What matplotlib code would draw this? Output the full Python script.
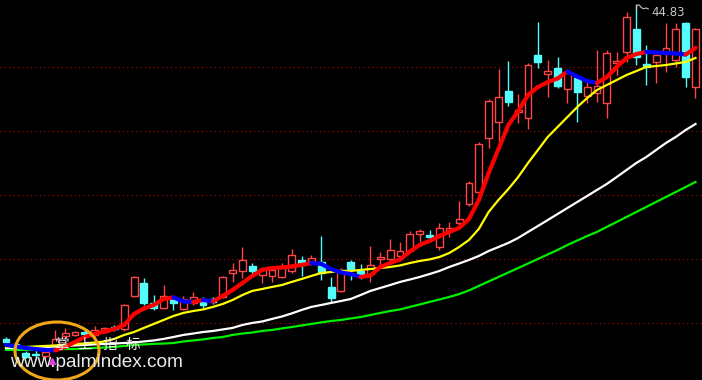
import matplotlib
matplotlib.use("Agg")
import matplotlib.pyplot as plt
import numpy as np
from matplotlib.collections import LineCollection
from matplotlib.patches import Ellipse

# ---------------- data (prices) ----------------
opens = [18.75, 18.36, 17.65, 17.57, 17.42, 18.20, 18.98, 19.06, 19.29, 19.06,
         19.29, 19.68, 19.53, 22.11, 23.12, 21.56, 21.17, 21.79, 21.09, 21.56,
         21.64, 21.87, 22.03, 23.90, 24.06, 24.45, 23.75, 23.67, 23.59, 24.06,
         24.92, 24.84, 24.76, 22.81, 22.50, 24.76, 24.06, 23.82, 25.00, 25.00,
         25.23, 25.62, 26.95, 26.87, 25.93, 27.18, 27.81, 29.29, 30.23, 34.45,
         35.70, 38.12, 36.48, 36.01, 40.93, 39.45, 39.92, 38.28, 39.14, 37.73,
         37.96, 37.18, 40.31, 41.17, 42.96, 40.23, 40.39, 41.17, 40.54, 43.43, 38.43]
highs = [18.90, 18.43, 17.81, 17.89, 17.89, 19.45, 19.61, 19.37, 19.45, 19.76,
         19.68, 19.84, 21.48, 23.67, 23.51, 22.18, 22.96, 21.95, 22.11, 22.42,
         22.03, 22.03, 23.67, 24.68, 25.93, 24.68, 24.37, 24.29, 24.68, 25.78,
         25.23, 25.31, 26.79, 23.59, 24.29, 24.92, 24.61, 26.01, 25.54, 26.56,
         26.32, 27.18, 27.34, 27.26, 27.81, 27.89, 29.53, 31.09, 34.14, 37.50,
         39.84, 40.46, 37.89, 40.31, 43.51, 40.54, 40.78, 39.76, 39.29, 38.98,
         41.32, 41.32, 41.17, 44.29, 44.83, 41.71, 41.01, 43.43, 43.43, 43.51, 43.04]
lows = [18.28, 18.12, 17.26, 17.26, 17.26, 18.12, 18.82, 18.98, 18.98, 18.98,
        19.21, 19.37, 19.37, 22.03, 21.40, 21.01, 21.09, 21.01, 21.01, 21.40,
        21.17, 21.48, 21.95, 23.20, 23.51, 23.75, 23.12, 23.20, 23.51, 23.90,
        23.67, 24.53, 23.36, 21.56, 22.42, 23.36, 23.43, 23.20, 24.37, 24.61,
        24.92, 25.46, 26.32, 26.64, 25.70, 26.71, 27.65, 29.14, 30.07, 33.67,
        34.06, 36.95, 35.62, 35.15, 39.92, 37.65, 38.36, 37.18, 35.70, 37.18,
        37.26, 36.01, 39.37, 40.39, 40.15, 38.59, 38.75, 39.61, 40.00, 38.43, 37.57]
closes = [18.51, 18.20, 17.34, 17.50, 17.73, 18.75, 19.21, 19.29, 19.14, 19.45,
          19.61, 19.53, 21.40, 23.59, 21.56, 21.17, 22.11, 21.56, 21.87, 22.03,
          21.40, 21.64, 23.59, 24.14, 24.92, 24.06, 24.21, 24.14, 24.37, 25.31,
          24.53, 25.07, 23.90, 21.95, 24.14, 24.21, 23.75, 24.53, 25.15, 25.70,
          25.62, 26.95, 27.18, 26.71, 27.42, 27.42, 28.12, 30.93, 33.98, 37.34,
          37.65, 37.26, 36.64, 40.15, 40.39, 39.68, 38.51, 39.53, 38.04, 38.43,
          38.51, 41.09, 40.46, 43.90, 40.78, 40.00, 40.93, 41.48, 42.96, 39.21, 42.96]

ma_short = [18.28, 18.16, 18.04, 17.96, 17.89, 17.85, 18.12, 18.51, 18.90, 19.14,
            19.33, 19.53, 19.84, 20.70, 21.13, 21.40, 21.87, 21.99, 21.68, 21.64,
            21.79, 21.68, 22.11, 22.57, 23.12, 23.67, 24.14, 24.29, 24.33, 24.41,
            24.53, 24.68, 24.61, 24.21, 23.94, 23.82, 23.59, 23.71, 24.37, 24.68,
            24.96, 25.58, 26.09, 26.40, 26.79, 27.11, 27.42, 28.12, 29.61, 31.71,
            33.59, 35.46, 36.56, 37.81, 38.43, 38.82, 39.10, 39.64, 39.25, 38.90,
            38.75, 39.21, 40.00, 40.70, 41.01, 41.17, 41.13, 41.09, 41.05, 40.97, 41.48]
ma_yellow = [18.12, 18.12, 18.12, 18.16, 18.20, 18.24, 18.28, 18.36, 18.39, 18.47,
             18.55, 18.75, 19.06, 19.29, 19.61, 19.92, 20.23, 20.54, 20.78, 20.93,
             21.05, 21.25, 21.48, 21.79, 22.18, 22.50, 22.65, 22.81, 22.96, 23.20,
             23.43, 23.67, 23.90, 23.98, 24.06, 24.06, 24.14, 24.21, 24.29, 24.37,
             24.49, 24.68, 24.84, 24.96, 25.15, 25.46, 25.93, 26.48, 27.34, 28.67,
             29.61, 30.46, 31.40, 32.50, 33.51, 34.53, 35.31, 36.09, 36.87, 37.57,
             38.20, 38.59, 38.98, 39.37, 39.68, 40.00, 40.07, 40.15, 40.27, 40.39, 40.70]
ma_white = [18.04, 18.04, 18.08, 18.12, 18.12, 18.16, 18.20, 18.24, 18.28, 18.32,
            18.36, 18.39, 18.43, 18.47, 18.55, 18.63, 18.75, 18.90, 19.06, 19.17,
            19.29, 19.37, 19.49, 19.61, 19.84, 20.00, 20.11, 20.31, 20.50, 20.74,
            21.01, 21.25, 21.40, 21.56, 21.71, 21.87, 22.18, 22.50, 22.73, 22.96,
            23.20, 23.39, 23.59, 23.82, 24.06, 24.37, 24.64, 24.92, 25.23, 25.62,
            25.93, 26.25, 26.64, 27.11, 27.57, 28.04, 28.51, 28.98, 29.45, 29.92,
            30.39, 30.86, 31.40, 31.95, 32.50, 32.96, 33.51, 34.06, 34.53, 35.07, 35.54]
ma_green = [17.89, 17.89, 17.89, 17.89, 17.93, 17.93, 17.96, 17.96, 18.00, 18.04,
            18.08, 18.12, 18.20, 18.28, 18.32, 18.36, 18.39, 18.43, 18.55, 18.63,
            18.71, 18.82, 18.90, 19.06, 19.17, 19.25, 19.37, 19.45, 19.57, 19.68,
            19.80, 19.92, 20.04, 20.15, 20.23, 20.35, 20.46, 20.62, 20.78, 20.93,
            21.05, 21.25, 21.44, 21.64, 21.83, 22.03, 22.25, 22.54, 22.89, 23.24,
            23.59, 23.94, 24.29, 24.64, 25.00, 25.35, 25.70, 26.09, 26.44, 26.79,
            27.11, 27.50, 27.89, 28.28, 28.67, 29.06, 29.45, 29.84, 30.23, 30.62, 31.01]
grid_prices = [20, 25, 30, 35, 40]
max_label = "44.83"

# ---------------- figure ----------------
W, H = 702, 380
fig = plt.figure(figsize=(W / 100, H / 100), dpi=100, facecolor="black")
ax = fig.add_axes([0, 0, 1, 1])
ax.set_facecolor("black")
ax.set_axis_off()
ax.set_xlim(-0.61, 70.66)
ax.set_ylim(15.54, 45.23)

n = len(closes)
x = np.arange(n)
o = np.array(opens); c = np.array(closes); h = np.array(highs); l = np.array(lows)

for gp in grid_prices:
    ax.axhline(gp, color="#D00000", lw=0.75, ls=(0, (1, 3.2)), zorder=1)

UP = "#FF4545"
DN = "#54FCFC"
up = c >= o
bw = 0.70
# wicks
ax.vlines(x[up], l[up], h[up], color=UP, lw=1.0, zorder=2)
ax.vlines(x[~up], l[~up], h[~up], color=DN, lw=1.0, zorder=2)
# bodies
bot = np.minimum(o, c)
ht = np.maximum(np.abs(c - o), 0.04)
ax.bar(x[up], ht[up], bw, bot[up], facecolor="black", edgecolor=UP, lw=1.0, zorder=3)
ax.bar(x[~up], ht[~up], bw, bot[~up], facecolor=DN, edgecolor=DN, lw=1.0, zorder=3)

# moving averages
ax.plot(x, ma_green, color="#00F000", lw=1.6, zorder=4)
ax.plot(x, ma_white, color="#FFFFFF", lw=1.6, zorder=4)
ax.plot(x, ma_yellow, color="#FFFF00", lw=1.6, zorder=4)

ms = np.array(ma_short)
pts = np.column_stack([x, ms])
segs = np.stack([pts[:-1], pts[1:]], axis=1)
cols = ["#FF0000" if d >= 0 else "#0000FF" for d in np.diff(ms)]
lc = LineCollection(segs, colors=cols, linewidths=3.0, capstyle="round", zorder=5)
ax.add_collection(lc)

# max price marker
imax = int(np.argmax(h))
hx, hy = x[imax], h[imax]
ax.plot([hx, hx], [hy, hy - 0.38], color="#C8C8C8", lw=0.8, zorder=6)
ax.plot([hx, hx + 0.3, hx + 0.5, hx + 0.75, hx + 1.0, hx + 1.2],
        [hy, hy, hy - 0.2, hy - 0.28, hy - 0.22, hy - 0.3], color="#C8C8C8", lw=0.8, zorder=6)
ax.text(hx + 1.5, hy - 0.55, max_label, color="#C8C8C8", fontsize=8.5,
        ha="left", va="center", family="DejaVu Sans", zorder=6)

# watermark
def fx(px):
    return px / W
def fy(py):
    return 1 - py / H

ell = Ellipse((fx(57), fy(351)), 84 / W, 58 / H, transform=fig.transFigure,
              fill=False, edgecolor="#F0A818", lw=2.2, zorder=10)
fig.patches.append(ell)
for ch, px in zip(["掌", "上", "指", "标"], [61, 85, 110, 133]):
    fig.text(fx(px), fy(345), ch, color="#F0F0F0", fontsize=10.5,
             family=["Noto Sans CJK SC", "DejaVu Sans"], ha="center", va="center", zorder=11)
fig.text(fx(10), fy(367), "www.palmindex.com", color="#EBEBEB", fontsize=13.7,
         family="Liberation Sans", ha="left", va="baseline", zorder=11)
ax.plot([4.7], [17.0], marker="^", color="#E040E0", ms=5, zorder=9, clip_on=False)

fig.savefig("out.png", dpi=100, facecolor="black")
